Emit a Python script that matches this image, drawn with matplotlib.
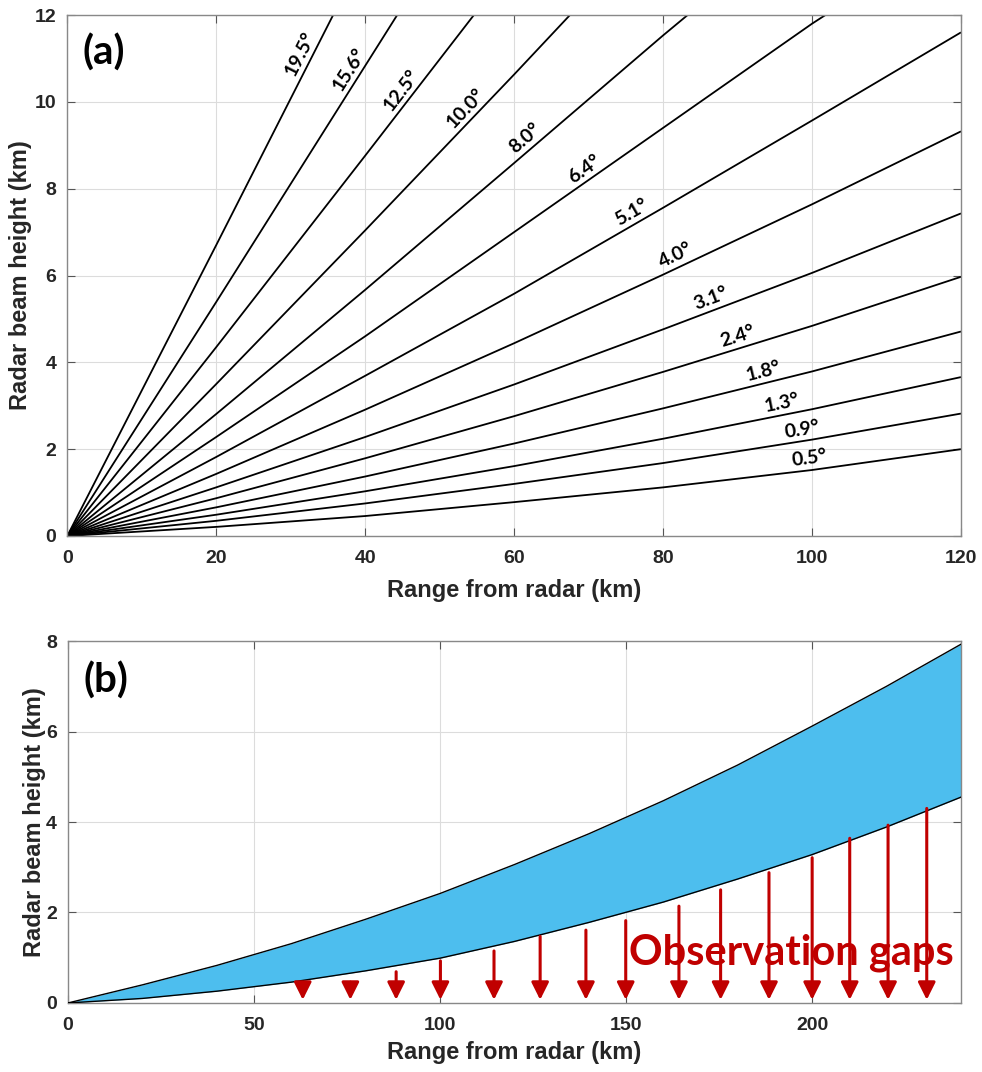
import numpy as np
import matplotlib.pyplot as plt

# ---- panel (a): beam height vs range for each elevation angle ----
angle_labels = ['0.5', '0.9', '1.3', '1.8', '2.4', '3.1', '4.0', '5.1',
                '6.4', '8.0', '10.0', '12.5', '15.6', '19.5']
beam_ranges = [
    [0, 20, 40, 60, 80, 100, 120],
    [0, 20, 40, 60, 80, 100, 120],
    [0, 20, 40, 60, 80, 100, 120],
    [0, 20, 40, 60, 80, 100, 120],
    [0, 20, 40, 60, 80, 100, 120],
    [0, 20, 40, 60, 80, 100, 120],
    [0, 20, 40, 60, 80, 100, 120],
    [0, 20, 40, 60, 80, 100, 120],
    [0, 20, 40, 60, 80, 100, 101.8],
    [0, 20, 40, 60, 80, 83.3],
    [0, 20, 40, 60, 67.5],
    [0, 20, 40, 54.6],
    [0, 20, 40, 44.3],
    [0, 20, 35.7],
]
beam_heights = [
    [0, 0.21, 0.46, 0.78, 1.12, 1.52, 2.00],
    [0, 0.35, 0.75, 1.20, 1.68, 2.22, 2.82],
    [0, 0.49, 1.03, 1.61, 2.24, 2.92, 3.66],
    [0, 0.66, 1.37, 2.13, 2.94, 3.79, 4.71],
    [0, 0.87, 1.79, 2.76, 3.78, 4.84, 5.97],
    [0, 1.12, 2.28, 3.49, 4.76, 6.06, 7.43],
    [0, 1.43, 2.91, 4.44, 6.02, 7.64, 9.32],
    [0, 1.82, 3.69, 5.58, 7.56, 9.57, 11.60],
    [0, 2.28, 4.60, 7.00, 9.40, 11.80, 12.0],
    [0, 2.81, 5.67, 8.59, 11.53, 12.0],
    [0, 3.50, 7.04, 10.63, 12.0],
    [0, 4.35, 8.76, 12.0],
    [0, 5.39, 10.83, 12.0],
    [0, 6.70, 12.0],
]
# range along each line where its label sits
label_ranges = [99.8, 98.9, 96.3, 93.9, 90.4, 87.0, 82.4, 76.5,
                70.3, 62.5, 54.7, 46.1, 39.2, 32.7]

# ---- panel (b): lowest/highest beam envelope and gaps ----
gap_range = [0, 20, 40, 60, 80, 100, 120, 140, 160, 180, 200, 220, 240]
gap_upper = [0, 0.40, 0.83, 1.31, 1.85, 2.42, 3.06, 3.74, 4.47, 5.26, 6.12, 7.00, 7.93]
gap_lower = [0, 0.10, 0.26, 0.46, 0.71, 0.99, 1.36, 1.78, 2.23, 2.74, 3.28, 3.89, 4.55]
arrow_x = [63.1, 75.9, 88.2, 100.1, 114.5, 126.9, 139.2, 149.9,
           164.2, 175.4, 188.4, 200.0, 210.1, 220.4, 230.8]
arrow_top = [0.36, 0.46, 0.69, 0.93, 1.15, 1.47, 1.61, 1.82,
             2.14, 2.50, 2.88, 3.21, 3.64, 3.93, 4.30]
arrow_tip = 0.07

tick_col = '#262626'
gap_red = '#C00000'
matlab_blue = '#4DBEEE'

plt.rcParams['font.family'] = ['Liberation Sans', 'DejaVu Sans']

fig = plt.figure(figsize=(9.82, 10.72), dpi=100)
ax1 = fig.add_axes([0.0685, 0.5, 0.9101, 0.486])
ax2 = fig.add_axes([0.0692, 0.0644, 0.9094, 0.3376])


def style_axes(ax):
    ax.grid(True, color='#dcdcdc', lw=0.8)
    ax.set_axisbelow(True)
    ax.tick_params(direction='in', top=True, right=True, length=6,
                   color='#555555', labelsize=14, labelcolor=tick_col, pad=8)
    ax.tick_params(axis='x', pad=10)
    for lab in ax.get_xticklabels() + ax.get_yticklabels():
        lab.set_fontweight('bold')
    for sp in ax.spines.values():
        sp.set_color('#888888')
        sp.set_linewidth(1.0)


# panel (a)
ax1.set_xlim(0, 120)
ax1.set_ylim(0, 12)
ax1.set_xticks([0, 20, 40, 60, 80, 100, 120])
ax1.set_yticks([0, 2, 4, 6, 8, 10, 12])
style_axes(ax1)
for r, h in zip(beam_ranges, beam_heights):
    ax1.plot(r, h, color='black', lw=1.3, solid_capstyle='butt')

inv = ax1.transData.inverted()
for lab, r, h, lx in zip(angle_labels, beam_ranges, beam_heights, label_ranges):
    ly = np.interp(lx, r, h)
    p1 = ax1.transData.transform((lx - 1, np.interp(lx - 1, r, h)))
    p2 = ax1.transData.transform((lx + 1, np.interp(lx + 1, r, h)))
    phi = np.arctan2(p2[1] - p1[1], p2[0] - p1[0])
    # lift the label a few pixels off the line, perpendicular to it
    base = ax1.transData.transform((lx, ly))
    lifted = base + 3 * np.array([-np.sin(phi), np.cos(phi)])
    tx, ty = inv.transform(lifted)
    ax1.text(tx, ty, lab + '°', rotation=np.degrees(phi), rotation_mode='anchor',
             ha='center', va='bottom', fontsize=14, fontweight='bold',
             family=['Lato', 'DejaVu Sans'])

ax1.text(0.017, 0.927, '(a)', transform=ax1.transAxes, ha='left', va='center',
         fontsize=29, fontweight='bold', family=['Lato', 'DejaVu Sans'])
ax1.set_xlabel('Range from radar (km)', fontsize=17, fontweight='bold',
               color=tick_col, labelpad=9)
ax1.set_ylabel('Radar beam height (km)', fontsize=17, fontweight='bold',
               color=tick_col, labelpad=2)

# panel (b)
ax2.set_xlim(0, 240)
ax2.set_ylim(0, 8)
ax2.set_xticks([0, 50, 100, 150, 200])
ax2.set_yticks([0, 2, 4, 6, 8])
style_axes(ax2)
ax2.fill_between(gap_range, gap_lower, gap_upper, color=matlab_blue, lw=0, zorder=2)
ax2.plot(gap_range, gap_upper, color='black', lw=1.0, zorder=3)
ax2.plot(gap_range, gap_lower, color='black', lw=1.0, zorder=3)

ax2.text(0.628 * 240, 0.84, 'Observation gaps', ha='left', va='baseline',
         fontsize=30, fontweight='bold', color=gap_red,
         family=['Lato', 'DejaVu Sans'], zorder=4)

for x, top in zip(arrow_x, arrow_top):
    ax2.annotate('', xy=(x, arrow_tip), xytext=(x, top),
                 arrowprops=dict(arrowstyle='-|>,head_length=0.7,head_width=0.35',
                                 color=gap_red, lw=2.2, mutation_scale=15,
                                 shrinkA=0, shrinkB=0), zorder=5)

ax2.text(0.017, 0.892, '(b)', transform=ax2.transAxes, ha='left', va='center',
         fontsize=29, fontweight='bold', family=['Lato', 'DejaVu Sans'])
ax2.set_xlabel('Range from radar (km)', fontsize=17, fontweight='bold',
               color=tick_col, labelpad=5)
ax2.set_ylabel('Radar beam height (km)', fontsize=17, fontweight='bold',
               color=tick_col, labelpad=0)

fig.savefig('out.png', dpi=100)
